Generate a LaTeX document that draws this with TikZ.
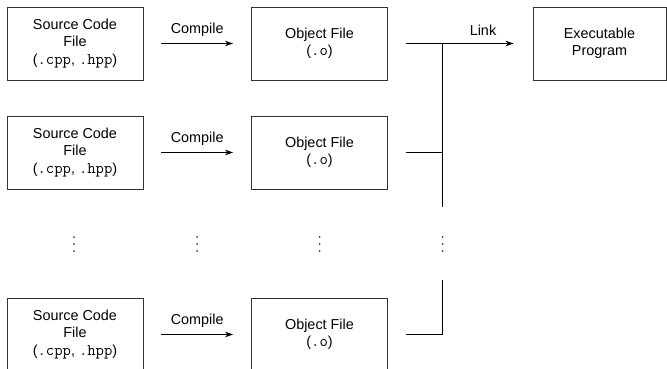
\documentclass[tikz,border=0pt]{standalone}
\usepackage{fontspec}
\setmainfont{Liberation Sans}
\usetikzlibrary{arrows.meta}
\newcommand\code[1]{{\fontsize{16.2}{17.4}\ttfamily #1}}
\begin{document}
\begin{tikzpicture}[x=1pt,y=-1pt,
  every node/.style={font=\fontsize{14.4}{17.4}\selectfont, inner sep=0pt},
  filebox/.style={draw=black!80, line width=0.9pt, minimum width=136pt, minimum height=73pt, align=center},
  conn/.style={draw=black, line width=0.9pt},
  arr/.style={conn, -{Stealth[length=8pt,width=5.5pt]}},
  dotfill/.style={fill=black!75}]
\useasboundingbox (0,0) rectangle (667,369);

% row 1
\node[filebox] (s1) at (75,43.5) {Source Code\\File\\(\code{.cpp}, \code{.hpp})};
\node[filebox] (o1) at (319.5,43.5) {Object File\\(\code{.o})};
\node[filebox, minimum width=133pt] (ex) at (599.5,43.5) {Executable\\Program};
% row 2
\node[filebox] (s2) at (75,152.5) {Source Code\\File\\(\code{.cpp}, \code{.hpp})};
\node[filebox] (o2) at (319.5,152.5) {Object File\\(\code{.o})};
% row 3
\node[filebox] (s3) at (75,334.5) {Source Code\\File\\(\code{.cpp}, \code{.hpp})};
\node[filebox] (o3) at (319.5,334.5) {Object File\\(\code{.o})};

% compile arrows
\draw[arr, shorten <=18pt, shorten >=18pt] (s1) -- (o1) node[midway, above=7pt] (c1) {Compile};
\draw[arr, shorten <=18pt, shorten >=18pt] (s2) -- (o2) node[midway, above=7pt] (c2) {Compile};
\draw[arr, shorten <=18pt, shorten >=18pt] (s3) -- (o3) node[midway, above=7pt] (c3) {Compile};

% link
\coordinate (j1) at (442,43.5);
\coordinate (j2) at (442,152.5);
\coordinate (jb) at (442,207);
\coordinate (j3) at (442,334.5);
\coordinate (jt) at (442,280);
\draw[arr, shorten <=18pt, shorten >=19pt] (o1) -- (ex);
\node (lk) at (483,30) {Link};
\draw[conn] (j1) -- (jb);
\draw[conn, shorten <=18pt] (o2) -- (j2);
\draw[conn, shorten <=18pt] (o3) -- (j3) -- (jt);

% vertical ellipses
\foreach \x in {74,197,319.5,442.5}{
  \foreach \y in {237,244,251}{
    \fill[dotfill] (\x,\y) circle (1pt);
  }
}
\end{tikzpicture}
\end{document}
